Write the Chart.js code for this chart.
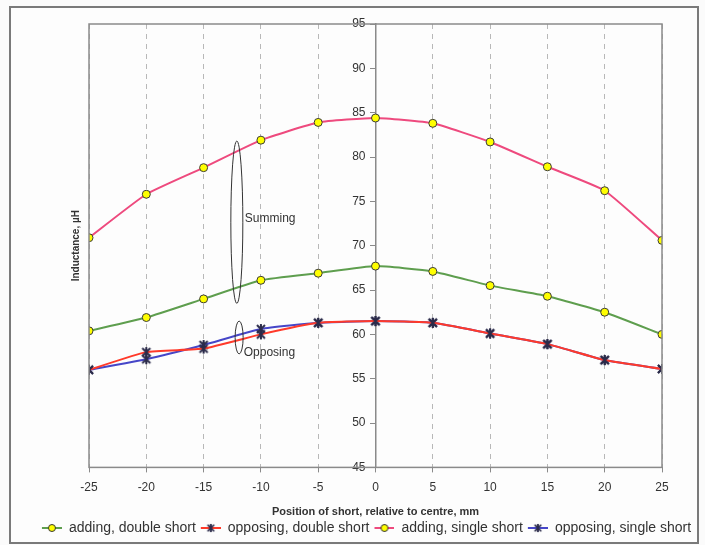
<!DOCTYPE html>
<html>
<head>
<meta charset="utf-8">
<script src="https://cdn.jsdelivr.net/npm/chart.js@4"></script>
<style>
  html, body { margin: 0; padding: 0; background: #fbfbfb; }
  #wrap { position: relative; width: 705px; height: 545px; }
  #frame { position: absolute; left: 9px; top: 6px; width: 686px; height: 534px; border: 2px solid #7a7a7a; background: #fdfdfd; }
  canvas { position: absolute; left: 0; top: 0; }
</style>
</head>
<body>
<div id="wrap">
  <div id="frame"></div>
  <canvas id="grafica" width="705" height="545"></canvas>
</div>
<script>
// posiciones del cortocircuito (mm)
const posiciones = [-25, -20, -15, -10, -5, 0, 5, 10, 15, 20, 25];
const addingDouble = [60.4, 61.9, 64.0, 66.1, 66.9, 67.7, 67.1, 65.5, 64.3, 62.5, 60.0];
const opposingDouble = [56.0, 58.0, 58.4, 60.0, 61.3, 61.5, 61.3, 60.1, 58.9, 57.1, 56.1];
const addingSingle = [70.9, 75.8, 78.8, 81.9, 83.9, 84.4, 83.8, 81.7, 78.9, 76.2, 70.6];
const opposingSingle = [56.0, 57.2, 58.8, 60.6, 61.3, 61.5, 61.3, 60.1, 58.9, 57.1, 56.1];
const nombres = ['adding, double short', 'opposing, double short', 'adding, single short', 'opposing, single short'];
const yTicks = [45, 50, 55, 60, 65, 70, 75, 80, 85, 90, 95];

const texto = '#333333';
const fuente = "'Liberation Sans', Arial, sans-serif";

function puntos(valores) {
  return posiciones.map((x, i) => ({ x: x, y: valores[i] }));
}

// marcador tipo asterisco (X con barra vertical)
function asterisco() {
  const c = document.createElement('canvas');
  c.width = 12; c.height = 12;
  const g = c.getContext('2d');
  g.strokeStyle = '#2b2b4a'; g.lineWidth = 2;
  g.beginPath();
  g.moveTo(2, 2); g.lineTo(10, 10); g.moveTo(10, 2); g.lineTo(2, 10);
  g.moveTo(6, 1); g.lineTo(6, 11);
  g.stroke();
  return c;
}

// icono de leyenda: linea + marcador (con margen transparente a la izquierda)
function iconoLeyenda(color, marcador) {
  const c = document.createElement('canvas');
  c.width = 23; c.height = 12;
  const g = c.getContext('2d');
  g.strokeStyle = color; g.lineWidth = 2;
  g.beginPath(); g.moveTo(3, 6); g.lineTo(23, 6); g.stroke();
  if (marcador === 'circle') {
    g.fillStyle = '#ffff00'; g.strokeStyle = '#333'; g.lineWidth = 1;
    g.beginPath(); g.arc(13, 6, 3.5, 0, Math.PI * 2); g.fill(); g.stroke();
  } else {
    g.drawImage(asterisco(), 8, 1, 10, 10);
  }
  return c;
}

const colores = ['#5e9e4e', '#ff3a2a', '#ee4a7e', '#4646c8'];
const marcadores = ['circle', 'star', 'circle', 'star'];
const series = [addingDouble, opposingDouble, addingSingle, opposingSingle];
const marcaX = asterisco();

const datasets = series.map((valores, i) => ({
  label: nombres[i],
  data: puntos(valores),
  borderColor: colores[i],
  borderWidth: 2,
  pointStyle: marcadores[i] === 'circle' ? 'circle' : marcaX,
  pointRadius: 4,
  pointBorderWidth: 1,
  pointBackgroundColor: '#ffff00',
  pointBorderColor: '#3a3a3a',
  tension: 0.15,
  fill: false
}));

// el rojo se dibuja encima del azul
datasets[1].order = 1;
datasets[3].order = 2;

// marco, titulo del eje y y elipses de anotacion
const extras = {
  id: 'extras',
  afterDraw(chart) {
    const { ctx, chartArea: a, scales: { x, y } } = chart;
    ctx.save();
    ctx.strokeStyle = '#8a8a8a';
    ctx.lineWidth = 1.5;
    ctx.strokeRect(a.left, a.top, a.right - a.left, a.bottom - a.top);

    ctx.fillStyle = texto;
    ctx.font = "bold 10px " + fuente;
    ctx.translate(a.left - 13, (a.top + a.bottom) / 2);
    ctx.rotate(-Math.PI / 2);
    ctx.textAlign = 'center';
    ctx.textBaseline = 'middle';
    ctx.fillText('Inductance, \u00b5H', 0, 0);
    ctx.restore();

    ctx.save();
    ctx.strokeStyle = '#333';
    ctx.lineWidth = 1;
    const cx = x.getPixelForValue(-12.1);
    ctx.beginPath();
    ctx.ellipse(cx, (y.getPixelForValue(81.8) + y.getPixelForValue(63.5)) / 2, 6,
      (y.getPixelForValue(63.5) - y.getPixelForValue(81.8)) / 2, 0, 0, Math.PI * 2);
    ctx.stroke();
    const cx2 = x.getPixelForValue(-11.9);
    ctx.beginPath();
    ctx.ellipse(cx2, (y.getPixelForValue(61.5) + y.getPixelForValue(57.8)) / 2, 4,
      (y.getPixelForValue(57.8) - y.getPixelForValue(61.5)) / 2, 0, 0, Math.PI * 2);
    ctx.stroke();
    ctx.fillStyle = texto;
    ctx.font = "12px " + fuente;
    ctx.textBaseline = 'middle';
    ctx.fillText('Summing', x.getPixelForValue(-11.4), y.getPixelForValue(73.1));
    ctx.fillText('Opposing', x.getPixelForValue(-11.5), y.getPixelForValue(57.9));
    ctx.restore();
  }
};

// ejes vacios para reservar margen sin estrechar la leyenda
function margen(pos, ancho) {
  return {
    type: 'linear', position: pos, display: true,
    ticks: { display: false }, grid: { display: false }, border: { display: false },
    afterFit(s) { s.width = ancho; }
  };
}

const ctx = document.getElementById('grafica').getContext('2d');

new Chart(ctx, {
  type: 'line',
  data: { datasets: datasets },
  plugins: [extras],
  options: {
    responsive: false,
    animation: false,
    layout: { padding: { left: 25, right: 0, top: 24, bottom: 0 } },
    scales: {
      x: {
        type: 'linear',
        min: -25, max: 25,
        ticks: { stepSize: 5, color: texto, font: { size: 12, family: fuente }, padding: 8 },
        grid: { color: '#b8b8b8', lineWidth: 1, tickColor: '#8a8a8a', tickLength: 5 },
        border: { color: '#8a8a8a', dash: [5, 5] },
        title: { display: true, text: 'Position of short, relative to centre, mm', color: texto,
                 font: { size: 11, weight: 'bold', family: fuente }, padding: { top: 3, bottom: 0 } }
      },
      y: {
        type: 'linear',
        position: { x: 0 },
        min: 45, max: 95,
        afterBuildTicks(scale) { scale.ticks = yTicks.map(v => ({ value: v })); },
        // el eje centrado no separa las etiquetas de la linea: se añaden espacios
        ticks: { color: texto, font: { size: 12, family: fuente }, callback: v => v + '   ' },
        grid: { drawOnChartArea: false, drawTicks: true, tickLength: 5, color: '#8a8a8a' },
        border: { display: true, color: '#8a8a8a', width: 1.5 }
      },
      margenIzq: margen('left', 64),
      margenDer: margen('right', 43)
    },
    plugins: {
      legend: {
        position: 'bottom',
        labels: {
          color: texto,
          font: { size: 14, family: fuente },
          usePointStyle: true,
          pointStyleWidth: 23,
          padding: 2,
          generateLabels(chart) {
            return chart.data.datasets.map((d, i) => ({
              text: d.label,
              pointStyle: iconoLeyenda(colores[i], marcadores[i]),
              fontColor: texto,
              lineWidth: 0,
              datasetIndex: i
            }));
          }
        }
      },
      tooltip: { enabled: false }
    }
  }
});
</script>
</body>
</html>
